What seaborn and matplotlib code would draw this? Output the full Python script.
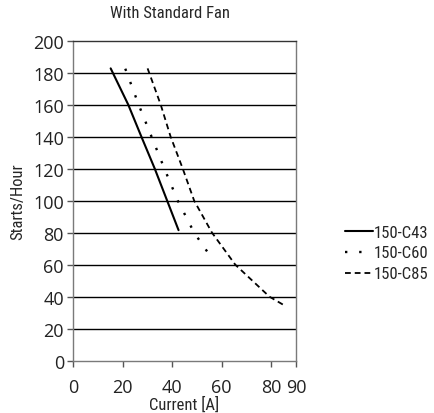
import numpy as np
import pandas as pd
import matplotlib
matplotlib.use("Agg")
import matplotlib.pyplot as plt
from matplotlib import font_manager as fm
import seaborn as sns

# values
c43_current = [15.2, 22.3, 27.6, 33.0, 38.0, 42.6]
c43_starts = [182.7, 160, 140, 120, 100, 81.6]

c60_current = [21.1, 26.5, 31.7, 36.9, 42.3, 48.9, 56.4]
c60_starts = [182.5, 160, 140, 120, 100, 80, 63.2]

c85_current = [30.1, 35.4, 39.4, 44.3, 48.9, 56.1, 65.5, 72.4, 79.3, 85.8]
c85_starts = [182.7, 160, 140, 120, 100, 80, 60, 50, 40, 34.1]

series_names = ["150-C43", "150-C60", "150-C85"]
x_ticks = [0, 20, 40, 60, 80, 90]
y_ticks = [0, 20, 40, 60, 80, 100, 120, 140, 160, 180, 200]

sns.set_theme(style="white")
plt.rcParams["font.family"] = ["DejaVu Sans"]

# the chart uses a condensed sans face for its labels; take one if installed
wanted = ["LiberationSansNarrow-Regular", "RobotoCondensed-Regular", "RobotoCondensed[",
          "OpenSans_Condensed-Regular", "OpenSansCondensed-Regular", "DejaVuSansCondensed.ttf"]
narrow = None
files = [f.fname for f in fm.fontManager.ttflist]
for w in wanted:
    hits = [p for p in files if w in p.replace("\\", "/").split("/")[-1]]
    if hits:
        narrow = hits[0]
        break

if narrow is not None:
    label_font = dict(fontproperties=fm.FontProperties(fname=narrow))
    scale = 1.0
else:
    label_font = dict(family="Roboto")
    scale = 0.85

fig = plt.figure(figsize=(4.35, 4.14), dpi=100)
ax = fig.add_axes([73 / 435, 1 - 361.7 / 414, 223 / 435, 320 / 414])

# horizontal grid lines
for yv in y_ticks[1:-1]:
    ax.axhline(yv, color="black", lw=1.0, zorder=1)

styles = [
    dict(linestyle="-", lw=1.5),
    dict(linestyle=(0, (1, 5)), lw=1.7),
    dict(linestyle=(0, (3.2, 2.2)), lw=1.3),
]
data = [(c43_current, c43_starts), (c60_current, c60_starts), (c85_current, c85_starts)]

for name, (xs, ys), st in zip(series_names, data, styles):
    df = pd.DataFrame({"Current": xs, "Starts": ys})
    sns.lineplot(data=df, x="Current", y="Starts", ax=ax, color="black",
                 label=name, estimator=None, zorder=3, **st)

ax.set_xlim(0, 90)
ax.set_ylim(0, 200)
ax.set_xticks(x_ticks)
ax.set_yticks(y_ticks)

for side in ["left", "right", "bottom", "top"]:
    ax.spines[side].set_color("#7a7a7a")
    ax.spines[side].set_linewidth(1.0)
ax.spines["top"].set_color("#333333")

ax.tick_params(axis="both", direction="out", length=4.5, width=1.0, color="#555555",
               labelsize=13, left=True, bottom=True)
ax.tick_params(axis="x", pad=8)
ax.tick_params(axis="y", pad=2)
for lab in ax.get_xticklabels() + ax.get_yticklabels():
    lab.set_fontfamily(["Open Sans", "DejaVu Sans"])
    lab.set_color("#222222")

ax.set_xlabel("Current [A]", fontsize=12 * scale, labelpad=0, **label_font)
ax.set_ylabel("Starts/Hour", fontsize=12 * scale, labelpad=6, **label_font)
fig.text(170 / 435, 1 - 13 / 414, "With Standard Fan", ha="center", va="center",
         fontsize=12 * scale, **label_font)

if narrow is not None:
    leg_prop = fm.FontProperties(fname=narrow, size=12)
else:
    leg_prop = fm.FontProperties(family="Roboto", size=10.5)
leg = ax.legend(loc="center left", bbox_to_anchor=((345 - 73) / 223, (361.7 - 254) / 320),
                frameon=False, handlelength=1.7, handletextpad=0.0,
                labelspacing=0.35, borderpad=0, borderaxespad=0, prop=leg_prop)

fig.savefig("out.png", dpi=100)
